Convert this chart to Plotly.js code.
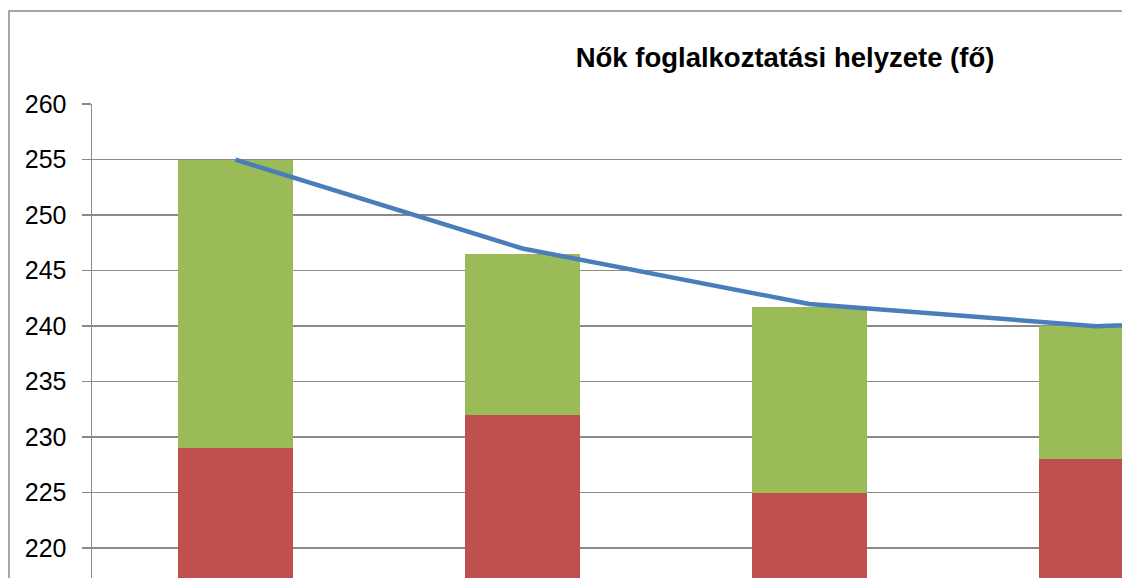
<!DOCTYPE html>
<html>
<head>
<meta charset="utf-8">
<script src="https://cdn.plot.ly/plotly-3.0.1.min.js"></script>
<style>
html, body { margin:0; padding:0; background:#fff; overflow:hidden; }
#chart { width:1122px; height:578px; }
</style>
</head>
<body>
<div id="chart"></div>
<script>
// Data read from the (cropped) reference chart
const categories = ['1', '2', '3', '4', '5'];
const redValues = [229, 232, 225, 228, null];
const greenValues = [26, 14.5, 16.7, 12, null];
const lineValues = [255, 247, 242, 240, 241];
const yTicks = [220, 225, 230, 235, 240, 245, 250, 255, 260];
const chartTitle = 'Nők foglalkoztatási helyzete (fő)';

const gridGray = '#8a8a8a';

const traces = [
  {
    type: 'bar', x: categories, y: redValues, name: 'A',
    marker: { color: '#C0504D', line: { width: 0 } },
    hoverinfo: 'y'
  },
  {
    type: 'bar', x: categories, y: greenValues, name: 'B',
    marker: { color: '#9BBB59', line: { width: 0 } },
    hoverinfo: 'y'
  },
  {
    type: 'scatter', mode: 'lines', x: categories, y: lineValues, name: 'C',
    line: { color: '#4A7EBB', width: 4.5 },
    hoverinfo: 'y'
  }
];

const layout = {
  width: 1122, height: 578,
  margin: { l: 92, r: 0, t: 104, b: 0, pad: 0 },
  paper_bgcolor: '#ffffff', plot_bgcolor: '#ffffff',
  showlegend: false,
  barmode: 'stack',
  bargap: 0.6,
  font: { family: 'Liberation Sans, Arial, sans-serif', color: '#000' },
  title: {
    text: '<b>' + chartTitle + '</b>',
    font: { family: 'Liberation Sans, Arial, sans-serif', size: 27.5, color: '#000' },
    x: 785 / 1122, xanchor: 'center', xref: 'container',
    y: 1 - 57 / 578, yanchor: 'middle', yref: 'container'
  },
  xaxis: {
    type: 'category',
    range: [-0.5, 3.09],
    showgrid: false, zeroline: false, showline: false,
    showticklabels: false, ticks: '', fixedrange: true
  },
  yaxis: {
    range: [217.3, 260.02],
    tickmode: 'array', tickvals: yTicks, ticktext: yTicks.map(String),
    showgrid: true, gridcolor: gridGray, gridwidth: 1.5,
    zeroline: false,
    showline: true, linecolor: gridGray, linewidth: 1.5,
    ticks: 'outside', ticklen: 9, tickcolor: gridGray, tickwidth: 1.5,
    ticklabelstandoff: 10,
    tickfont: { family: 'Liberation Sans, Arial, sans-serif', size: 25, color: '#000' },
    fixedrange: true
  },
  shapes: [
    {
      type: 'rect', xref: 'paper', yref: 'paper',
      x0: (9 - 92) / 1030, x1: 1.2,
      y0: -0.2, y1: 1 + (104 - 11) / 474,
      line: { color: gridGray, width: 1.5 },
      fillcolor: 'rgba(0,0,0,0)', layer: 'below'
    }
  ]
};

Plotly.newPlot('chart', traces, layout, { displayModeBar: false, staticPlot: true });
</script>
</body>
</html>
